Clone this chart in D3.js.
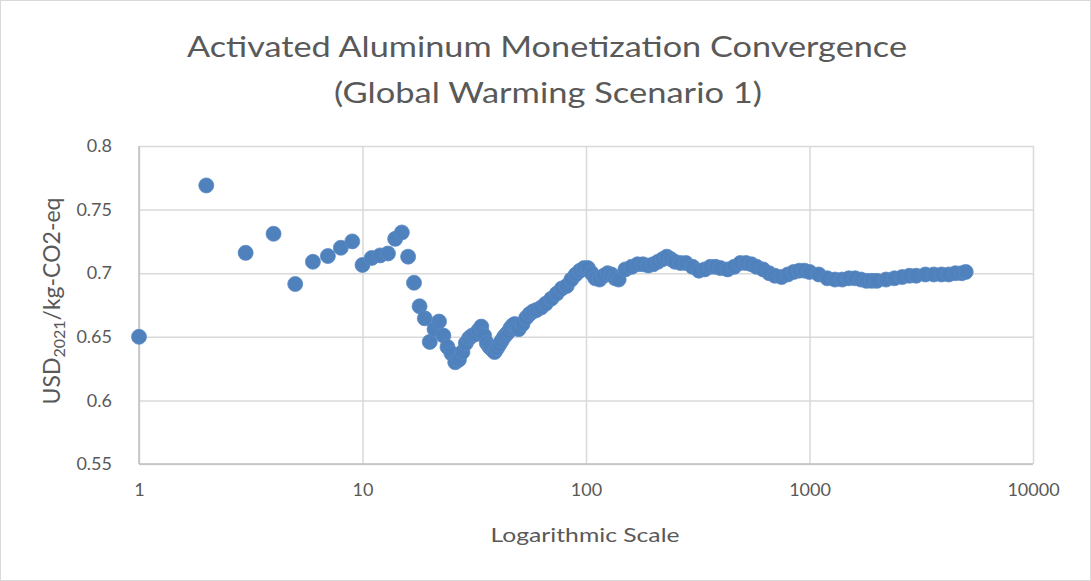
<!DOCTYPE html>
<html>
<head>
<meta charset="utf-8">
<script src="https://cdn.jsdelivr.net/npm/d3@7"></script>
<style>
  body { margin: 0; background: #fff; }
  text { font-family: Lato, "Open Sans", sans-serif; fill: #595959; }
</style>
</head>
<body>
<div id="chart"></div>
<script>
// number of trials (x) and running mean value (y)
var trials = [1, 2, 3, 4, 5, 6, 7, 8, 9, 10,
    11, 12, 13, 14, 15, 16, 17, 18, 19, 20,
    21, 22, 23, 24, 25, 26, 27, 28, 29, 30,
    31, 32, 33, 34, 35, 36, 37, 38, 39, 40,
    41, 42, 43, 44, 45, 46, 47, 48, 49, 50,
    52, 54, 56, 58, 60, 63, 66, 70, 74, 78,
    82, 86, 90, 94, 98, 102, 106, 110, 115, 120,
    125, 130, 135, 140, 150, 160, 170, 180, 190, 200,
    210, 220, 230, 240, 250, 265, 280, 300, 320, 340,
    360, 380, 400, 430, 460, 490, 520, 550, 580, 620,
    660, 700, 750, 800, 850, 900, 950, 1000, 1100, 1200,
    1300, 1400, 1500, 1600, 1700, 1800, 1900, 2000, 2200, 2400,
    2600, 2800, 3000, 3300, 3600, 3900, 4200, 4500, 4800, 5000];

var values = [0.650, 0.769, 0.716, 0.731, 0.6915, 0.709, 0.7135, 0.720, 0.725, 0.7065,
    0.712, 0.714, 0.7155, 0.727, 0.732, 0.713, 0.6925, 0.674, 0.6645, 0.646,
    0.656, 0.662, 0.651, 0.642, 0.637, 0.630, 0.632, 0.638, 0.645, 0.649,
    0.651, 0.652, 0.655, 0.658, 0.651, 0.645, 0.642, 0.640, 0.638, 0.641,
    0.644, 0.647, 0.650, 0.652, 0.654, 0.657, 0.659, 0.660, 0.658, 0.656,
    0.660, 0.665, 0.668, 0.670, 0.671, 0.673, 0.676, 0.680, 0.684, 0.688,
    0.690, 0.695, 0.699, 0.702, 0.704, 0.704, 0.700, 0.696, 0.695, 0.698,
    0.700, 0.699, 0.696, 0.695, 0.703, 0.705, 0.707, 0.707, 0.706, 0.707,
    0.709, 0.711, 0.713, 0.711, 0.709, 0.708, 0.708, 0.705, 0.702, 0.703,
    0.705, 0.705, 0.704, 0.703, 0.705, 0.708, 0.708, 0.707, 0.705, 0.703,
    0.700, 0.698, 0.697, 0.699, 0.701, 0.702, 0.702, 0.701, 0.699, 0.696,
    0.695, 0.695, 0.696, 0.696, 0.695, 0.694, 0.694, 0.694, 0.695, 0.696,
    0.697, 0.698, 0.698, 0.699, 0.699, 0.699, 0.699, 0.700, 0.700, 0.701];

var xTicks = [1, 10, 100, 1000, 10000];
var yTicks = [0.55, 0.6, 0.65, 0.7, 0.75, 0.8];

var width = 1091;
var height = 581;
var margin = {top: 146, right: 58, bottom: 117, left: 139};

var svg = d3.select('#chart')
    .append('svg')
    .attr('width', width)
    .attr('height', height);

// outer chart border
svg.append('rect')
    .attr('x', 0.5).attr('y', 0.5)
    .attr('width', width - 1).attr('height', height - 1)
    .attr('fill', '#fff')
    .attr('stroke', '#d9d9d9');

var x = d3.scaleLog()
    .domain([1, 10000])
    .range([margin.left, width - margin.right]);

var y = d3.scaleLinear()
    .domain([0.55, 0.8])
    .range([height - margin.bottom, margin.top]);

// gridlines
svg.append('g')
    .attr('transform', 'translate(0,' + (height - margin.bottom) + ')')
    .call(d3.axisBottom(x).tickValues(xTicks).tickSize(-(y.range()[0] - y.range()[1])).tickFormat(''))
    .call(function (g) {
        g.select('.domain').remove();
        g.selectAll('line').attr('stroke', '#d9d9d9').attr('stroke-width', 1.5);
    });

svg.append('g')
    .attr('transform', 'translate(' + margin.left + ',0)')
    .call(d3.axisLeft(y).tickValues(yTicks).tickSize(-(x.range()[1] - x.range()[0])).tickFormat(''))
    .call(function (g) {
        g.select('.domain').remove();
        g.selectAll('line').attr('stroke', '#d9d9d9').attr('stroke-width', 1.5);
    });

// axis line on the left and bottom
svg.append('line')
    .attr('x1', margin.left).attr('x2', margin.left)
    .attr('y1', y(0.8)).attr('y2', y(0.55))
    .attr('stroke', '#bfbfbf').attr('stroke-width', 1.5);
svg.append('line')
    .attr('x1', margin.left).attr('x2', x(10000))
    .attr('y1', y(0.55)).attr('y2', y(0.55))
    .attr('stroke', '#bfbfbf').attr('stroke-width', 1.5);

// tick labels
svg.append('g')
    .attr('transform', 'translate(0,' + (height - margin.bottom + 16) + ')')
    .call(d3.axisBottom(x).tickValues(xTicks).tickSize(0).tickFormat(d3.format('d')))
    .call(function (g) {
        g.select('.domain').remove();
        g.selectAll('text').attr('font-size', 18).attr('fill', '#595959')
            .attr('font-family', 'Lato, sans-serif');
    });

svg.append('g')
    .attr('transform', 'translate(' + (margin.left - 24) + ',0)')
    .call(d3.axisLeft(y).tickValues(yTicks).tickSize(0).tickFormat(d3.format('')))
    .call(function (g) {
        g.select('.domain').remove();
        g.selectAll('text').attr('font-size', 18).attr('fill', '#595959')
            .attr('font-family', 'Lato, sans-serif');
    });

// points
svg.append('g')
    .selectAll('circle')
    .data(trials)
    .enter()
    .append('circle')
    .attr('cx', function (d) { return x(d); })
    .attr('cy', function (d, i) { return y(values[i]); })
    .attr('r', 7.5)
    .attr('fill', '#4f81bd')
    .attr('stroke', '#5a8ac4')
    .attr('stroke-width', 0.8);

// title
var title = svg.append('text')
    .attr('text-anchor', 'middle')
    .attr('font-size', 28);
title.append('tspan')
    .attr('x', 547).attr('y', 57)
    .attr('textLength', 720).attr('lengthAdjust', 'spacingAndGlyphs')
    .text('Activated Aluminum Monetization Convergence');
title.append('tspan')
    .attr('x', 548).attr('y', 103)
    .attr('textLength', 428).attr('lengthAdjust', 'spacingAndGlyphs')
    .text('(Global Warming Scenario 1)');

// x axis title
svg.append('text')
    .attr('x', 585).attr('y', 542)
    .attr('text-anchor', 'middle')
    .attr('font-size', 20)
    .attr('textLength', 189).attr('lengthAdjust', 'spacingAndGlyphs')
    .text('Logarithmic Scale');

// y axis title
var yTitle = svg.append('text')
    .attr('transform', 'translate(60,301) rotate(-90)')
    .attr('text-anchor', 'middle')
    .attr('font-size', 23);
yTitle.append('tspan').text('USD');
yTitle.append('tspan').attr('font-size', 16).attr('dy', 5).text('2021');
yTitle.append('tspan').attr('dy', -5).text('/kg-CO2-eq');
</script>
</body>
</html>
